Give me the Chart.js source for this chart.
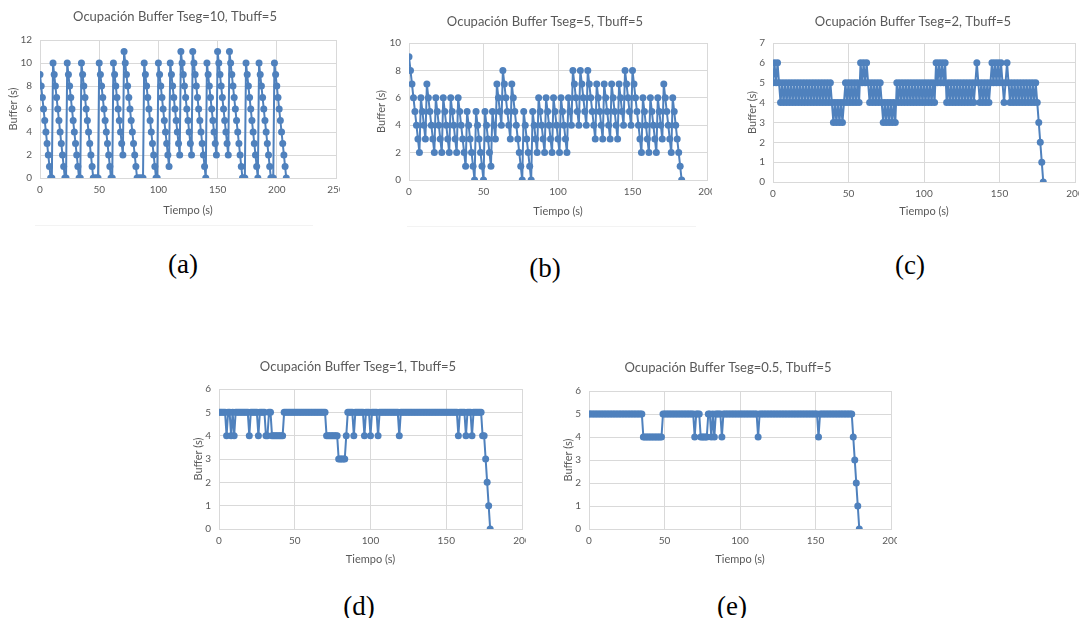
<!DOCTYPE html>
<html>
<head>
<meta charset="utf-8">
<script src="https://cdn.jsdelivr.net/npm/chart.js@4.4.1/dist/chart.umd.min.js"></script>
<style>
  html, body { margin: 0; padding: 0; background: #fff; }
  body { width: 1079px; height: 618px; position: relative; overflow: hidden; }
  .panel { position: absolute; overflow: hidden; }
  .panel canvas { position: absolute; left: 0; top: 0; }
  .tag {
    position: absolute;
    font-family: "Liberation Serif", "DejaVu Serif", serif;
    font-size: 27px;
    color: #000;
    transform: translate(-50%, -50%);
    white-space: nowrap;
  }
  .rule { position: absolute; height: 1px; background: #f3f3f3; }
</style>
</head>
<body>
<div class="rule" style="left:35px;top:225px;width:278px"></div>
<div class="rule" style="left:407px;top:226px;width:289px"></div>
<div class="tag" style="left:183px;top:264px">(a)</div>
<div class="tag" style="left:545px;top:268px">(b)</div>
<div class="tag" style="left:910px;top:265px">(c)</div>
<div class="tag" style="left:359px;top:606px">(d)</div>
<div class="tag" style="left:732px;top:606px">(e)</div>

<script>
// buffer occupancy (s), one sample per second starting at t = 0
const bufTseg10 = [
    9, 8, 7, 6, 5, 4, 3, 2, 1, 0, 0,
    10, 9, 8, 7, 6, 5, 4, 3, 2, 1, 0, 0,
    10, 9, 8, 7, 6, 5, 4, 3, 2, 1, 0, 0,
    10, 9, 8, 7, 6, 5, 4, 3, 2, 1, 0, 0, 0, 0, 0,
    10, 9, 8, 7, 6, 5, 4, 3, 2, 1, 0, 0,
    10, 9, 8, 7, 6, 5, 4, 3, 2,
    11, 10, 9, 8, 7, 6, 5, 4, 3, 2, 1, 0, 0, 0, 0, 0, 0,
    10, 9, 8, 7, 6, 5, 4, 3, 2, 1, 0, 0,
    10, 9, 8, 7, 6, 5, 4, 3, 2, 1,
    10, 9, 8, 7, 6, 5, 4, 3, 2,
    11, 10, 9, 8, 7, 6, 5, 4, 3, 2,
    11, 10, 9, 8, 7, 6, 5, 4, 3, 2, 1, 0,
    10, 9, 8, 7, 6, 5, 4, 3, 2,
    11, 10, 9, 8, 7, 6, 5, 4, 3, 2,
    11, 10, 9, 8, 7, 6, 5, 4, 3, 2, 1, 0, 0, 0,
    10, 9, 8, 7, 6, 5, 4, 3, 2, 1, 0,
    10, 9, 8, 7, 6, 5, 4, 3, 2, 1, 0, 0, 0,
    10, 9, 8, 7, 6, 5, 4, 3, 2, 1, 0,
];

const bufTseg5 = [
    9, 8, 7, 6, 5, 4, 3, 2,
    6, 5, 4, 3,
    7, 6, 5, 4, 3, 2,
    6, 5, 4, 3, 2,
    6, 5, 4, 3, 2,
    6, 5, 4, 3, 2,
    6, 5, 4, 3, 2, 1,
    5, 4, 3, 2, 1, 0,
    5, 4, 3, 2, 1, 0,
    5, 4, 3, 2, 1,
    5, 4, 3,
    7, 6, 5, 4,
    8, 7, 6, 5, 4, 3,
    7, 6, 5, 4, 3, 2, 1, 0,
    5, 4, 3, 2, 1, 0,
    5, 4, 3, 2,
    6, 5, 4, 3, 2,
    6, 5, 4, 3, 2,
    6, 5, 4, 3, 2,
    6, 5, 4, 3, 2,
    6, 5, 4,
    8, 7, 6, 5, 4,
    8, 7, 6, 5, 4,
    8, 7, 6, 5, 4, 3,
    7, 6, 5, 4, 3,
    7, 6, 5, 4, 3,
    7, 6, 5, 4, 3,
    7, 6, 5, 4,
    8, 7, 6, 5, 4,
    8, 7, 6, 5, 4, 3, 2,
    6, 5, 4, 3, 2,
    6, 5, 4, 3, 2,
    6, 5, 4, 3,
    7, 6, 5, 4, 3, 2,
    6, 5, 4, 3, 2, 1, 0,
];

const bufTseg2 = [
    5, 6, 5, 6, 5,
    4, 5, 4, 5, 4, 5, 4, 5, 4, 5, 4, 5, 4, 5, 4, 5, 4, 5,
    4, 5, 4, 5, 4, 5, 4, 5, 4, 5, 4, 5, 4, 5, 4, 5,
    4, 3, 4, 3, 4, 3, 4, 3, 4,
    5, 4, 5, 4, 5, 4, 5, 4, 5, 4,
    6, 5, 6, 5, 6, 5,
    4, 5, 4, 5, 4, 5, 4, 5, 4,
    3, 4, 3, 4, 3, 4, 3, 4, 3,
    5, 4, 5, 4, 5, 4, 5, 4, 5, 4, 5, 4, 5, 4, 5, 4, 5, 4, 5, 4, 5, 4, 5, 4, 5, 4,
    6, 5, 6, 5, 6, 5, 6,
    4, 5, 4, 5, 4, 5, 4, 5, 4, 5, 4, 5, 4, 5, 4, 5, 4, 5, 4, 5,
    6,
    5, 4, 5, 4, 5, 4, 5, 4, 5,
    6, 5, 6, 5, 6, 5, 6, 5,
    4, 5, 6,
    5, 4, 5, 4, 5, 4, 5, 4, 5, 4, 5, 4, 5, 4, 5, 4, 5, 4, 5,
    4, 3, 2, 1, 0,
];

const bufTseg1 = [
    5, 5, 5, 5, 5, 4, 5, 5, 4, 5, 4,
    5, 5, 5, 5, 5, 5, 5, 5, 5, 4,
    5, 5, 5, 5, 5, 4, 5, 5, 5, 5, 4, 4, 5, 5,
    4, 4, 4, 4, 4, 4, 4, 4,
    5, 5, 5, 5, 5, 5, 5, 5, 5, 5, 5, 5, 5, 5,
    5, 5, 5, 5, 5, 5, 5, 5, 5, 5, 5, 5, 5, 5,
    4, 4, 4, 4, 4, 4, 4, 4,
    3, 3, 3, 3, 3,
    4, 5, 5, 5, 5, 4, 5, 5, 5, 5, 5, 5, 4, 5, 5, 5, 4, 5, 5, 5, 5, 4,
    5, 5, 5, 5, 5, 5, 5, 5, 5, 5, 5, 5, 5, 4,
    5, 5, 5, 5, 5, 5, 5, 5, 5, 5, 5, 5, 5, 5, 5, 5, 5, 5, 5,
    5, 5, 5, 5, 5, 5, 5, 5, 5, 5, 5, 5, 5, 5, 5, 5, 5, 5, 5,
    4, 5, 5, 5, 5, 4, 5, 5, 5, 4, 5, 5, 5, 5, 5, 5,
    4, 4, 3, 2, 1, 0,
];

const bufTseg05 = [
    5, 5, 5, 5, 5, 5, 5, 5, 5, 5, 5, 5, 5, 5, 5, 5, 5, 5,
    5, 5, 5, 5, 5, 5, 5, 5, 5, 5, 5, 5, 5, 5, 5, 5, 5, 5,
    4, 4, 4, 4, 4, 4, 4, 4, 4, 4, 4, 4, 4,
    5, 5, 5, 5, 5, 5, 5, 5, 5, 5, 5, 5, 5, 5, 5, 5, 5, 5, 5, 5, 5,
    4, 5, 5, 5, 4, 4, 4, 4, 4, 5, 5, 4, 5, 4, 5, 5, 5, 5, 4,
    5, 5, 5, 5, 5, 5, 5, 5, 5, 5, 5, 5, 5, 5, 5, 5, 5, 5, 5, 5, 5, 5, 5,
    4,
    5, 5, 5, 5, 5, 5, 5, 5, 5, 5, 5, 5, 5, 5, 5, 5, 5, 5, 5, 5,
    5, 5, 5, 5, 5, 5, 5, 5, 5, 5, 5, 5, 5, 5, 5, 5, 5, 5, 5,
    4,
    5, 5, 5, 5, 5, 5, 5, 5, 5, 5, 5, 5, 5, 5, 5, 5, 5, 5, 5, 5, 5, 5,
    4, 3, 2, 1, 0,
];

const sampleStep = 1; // seconds between samples

const chartTitles = [
    "Ocupación Buffer Tseg=10, Tbuff=5",
    "Ocupación Buffer Tseg=5, Tbuff=5",
    "Ocupación Buffer Tseg=2, Tbuff=5",
    "Ocupación Buffer Tseg=1, Tbuff=5",
    "Ocupación Buffer Tseg=0.5, Tbuff=5",
];
const xAxisTitle = "Tiempo (s)";
const yAxisTitle = "Buffer (s)";
const xMaxes = [250, 200, 200, 200, 200];
const yMaxes = [12, 10, 7, 6, 6];
const yTickSteps = [2, 1, 1, 1, 1];
const xTickStep = 50;

// page layout of each panel (canvas box, clip width, plot box, text anchors)
const panels = [
    { left: 0,   top: 0,   width: 350, height: 222, clip: 340, plot: [40, 40, 336, 178],   titleY: 17,  xTitleY: 210, yTitleX: 13 },
    { left: 370, top: 0,   width: 350, height: 222, clip: 342, plot: [409, 43, 707, 180],  titleY: 22,  xTitleY: 211, yTitleX: 381 },
    { left: 738, top: 0,   width: 350, height: 222, clip: 341, plot: [773, 43, 1075, 182], titleY: 22,  xTitleY: 211, yTitleX: 752 },
    { left: 183, top: 345, width: 350, height: 225, clip: 343, plot: [219, 389, 522, 529], titleY: 367, xTitleY: 559, yTitleX: 198 },
    { left: 553, top: 345, width: 350, height: 225, clip: 344, plot: [589, 391, 891, 529], titleY: 368, xTitleY: 559, yTitleX: 568 },
];
const series = [bufTseg10, bufTseg5, bufTseg2, bufTseg1, bufTseg05];

const LINE_BLUE = "#4f81bd";
const GRID = "#d9d9d9";
const TEXT = "#595959";
const FONT = "Lato, 'Liberation Sans', sans-serif";
const TITLE_SIZE = 13;
const TICK_SIZE = 10;
const AXIS_TITLE_SIZE = 11;

function buildChart(idx) {
    const p = panels[idx];
    const host = document.createElement("div");
    host.className = "panel";
    host.style.left = p.left + "px";
    host.style.top = p.top + "px";
    host.style.width = p.clip + "px";
    host.style.height = p.height + "px";
    const cv = document.createElement("canvas");
    cv.width = p.width;
    cv.height = p.height;
    cv.style.width = p.width + "px";
    cv.style.height = p.height + "px";
    host.appendChild(cv);
    document.body.appendChild(host);

    // plot box in canvas coordinates
    const pl = p.plot[0] - p.left;
    const pt = p.plot[1] - p.top;
    const pr = p.plot[2] - p.left;
    const pb = p.plot[3] - p.top;
    const side = p.width - pr; // same on both sides so the title stays centred
    const titleLH = TITLE_SIZE * 1.2;
    const titlePadTop = p.titleY - p.top - titleLH / 2;
    const titlePadBottom = pt - titleLH - titlePadTop;
    const axisLH = AXIS_TITLE_SIZE * 1.2;
    const yTitlePad = p.yTitleX - p.left - side - axisLH / 2;
    const xTitlePad = p.height - (p.xTitleY - p.top) - axisLH / 2;

    const points = series[idx].map((v, i) => ({ x: i * sampleStep, y: v }));

    return new Chart(cv, {
        type: "line",
        data: {
            datasets: [{
                data: points,
                borderColor: LINE_BLUE,
                backgroundColor: LINE_BLUE,
                borderWidth: 2,
                pointRadius: 3.5,
                pointBorderWidth: 0,
                pointBackgroundColor: LINE_BLUE,
                tension: 0,
            }],
        },
        options: {
            responsive: false,
            animation: false,
            devicePixelRatio: 1,
            layout: { padding: { left: side, right: side, top: 0, bottom: 0 } },
            plugins: {
                legend: { display: false },
                tooltip: { enabled: false },
                title: {
                    display: true,
                    text: chartTitles[idx],
                    color: TEXT,
                    font: { family: FONT, size: TITLE_SIZE, weight: "normal", lineHeight: 1.2 },
                    padding: { top: titlePadTop, bottom: titlePadBottom },
                },
            },
            scales: {
                x: {
                    type: "linear",
                    min: 0,
                    max: xMaxes[idx],
                    afterFit: (s) => {
                        s.height = p.height - pb;
                        s.paddingLeft = 0;
                        s.paddingRight = 0;
                    },
                    ticks: {
                        stepSize: xTickStep,
                        color: TEXT,
                        padding: 6,
                        maxRotation: 0,
                        font: { family: FONT, size: TICK_SIZE },
                    },
                    grid: { color: GRID, drawTicks: false },
                    border: { color: GRID },
                    title: {
                        display: true,
                        text: xAxisTitle,
                        color: TEXT,
                        font: { family: FONT, size: AXIS_TITLE_SIZE, lineHeight: 1.2 },
                        padding: { top: 0, bottom: xTitlePad },
                    },
                },
                y: {
                    min: 0,
                    max: yMaxes[idx],
                    afterFit: (s) => {
                        s.width = pl - side;
                        s.paddingTop = 0;
                        s.paddingBottom = 0;
                    },
                    ticks: {
                        stepSize: yTickSteps[idx],
                        color: TEXT,
                        padding: 8,
                        font: { family: FONT, size: TICK_SIZE },
                    },
                    grid: { color: GRID, drawTicks: false },
                    border: { color: GRID },
                    title: {
                        display: true,
                        text: yAxisTitle,
                        color: TEXT,
                        font: { family: FONT, size: AXIS_TITLE_SIZE, lineHeight: 1.2 },
                        padding: { top: yTitlePad, bottom: 0 },
                    },
                },
            },
        },
    });
}

panels.forEach((_, i) => buildChart(i));
</script>
</body>
</html>
